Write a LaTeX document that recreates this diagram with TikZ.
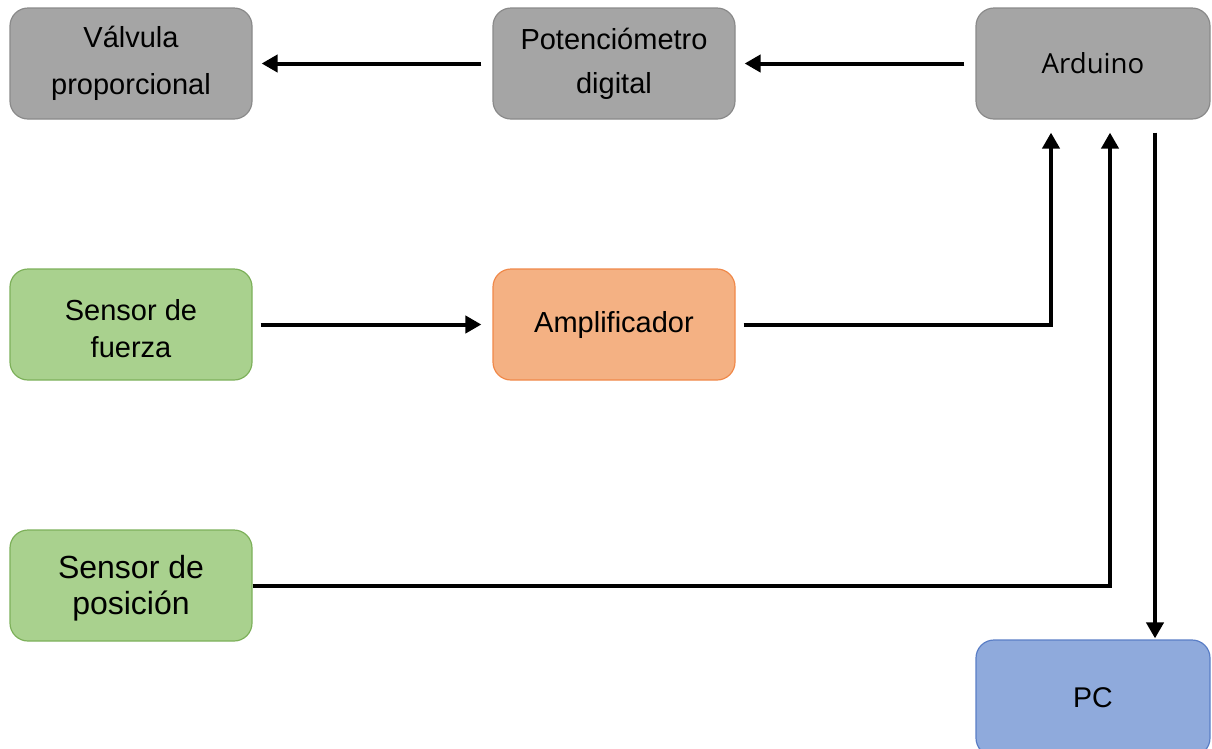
\documentclass[tikz,border=0pt]{standalone}
\usepackage{fontspec}
\setmainfont{Liberation Sans}
\newfontfamily\ardfont{Open Sans}
\usetikzlibrary{arrows.meta}

\definecolor{grayfill}{HTML}{A5A5A5}
\definecolor{grayline}{HTML}{8A8A8A}
\definecolor{greenfill}{HTML}{A9D18E}
\definecolor{greenline}{HTML}{7DB05A}
\definecolor{orangefill}{HTML}{F4B183}
\definecolor{orangeline}{HTML}{F0894A}
\definecolor{bluefill}{HTML}{8FAADC}
\definecolor{blueline}{HTML}{5A7EC6}

\begin{document}
\begin{tikzpicture}[x=1pt,y=-1pt,
  block/.style={draw, line width=1.2pt, rounded corners=18pt,
    minimum width=242pt, minimum height=111pt, align=center,
    inner sep=0pt, text=black},
  grayblk/.style={block, fill=grayfill, draw=grayline},
  greenblk/.style={block, fill=greenfill, draw=greenline},
  orangeblk/.style={block, fill=orangefill, draw=orangeline},
  blueblk/.style={block, fill=bluefill, draw=blueline},
  link/.style={line width=4pt, -{Triangle[length=16pt,width=17pt]}}
]
\useasboundingbox (0,0) rectangle (1212,748);

% top row
\node[grayblk, font=\fontsize{29}{47}\selectfont] (valv) at (131,63.5) {Válvula\\proporcional};
\node[grayblk, font=\fontsize{29}{44}\selectfont] (pot) at (614,63.5) {Potenciómetro\\digital};
\node[grayblk, minimum width=234pt, font=\ardfont\fontsize{27.6}{33}\selectfont] (ard) at (1093,63.5) {Arduino};

% middle row
\node[greenblk, font=\fontsize{29}{37}\selectfont] (fuer) at (131,324.5) {\rule{0pt}{29pt}Sensor de\\fuerza};
\node[orangeblk, font=\fontsize{29}{35}\selectfont] (amp) at (614,324.5) {Amplificador};

% bottom rows
\node[greenblk, font=\fontsize{32}{36}\selectfont] (pos) at (131,585.5) {\rule{0pt}{28pt}Sensor de\\posición};
\node[blueblk, minimum width=234pt, minimum height=116pt, font=\fontsize{28.5}{34}\selectfont] (pc) at (1093,698) {PC};

% connectors
\draw[link, shorten <=11pt, shorten >=9pt] (ard.west) -- (pot.east);
\draw[link, shorten <=11pt, shorten >=9pt] (pot.west) -- (valv.east);
\draw[link, shorten <=8pt, shorten >=11pt] (fuer.east) -- (amp.west);
\draw[link, shorten <=8pt, shorten >=13pt] (amp.east) -| ([xshift=-42pt]ard.south);
\draw[link, shorten >=13pt] (pos.east) -| ([xshift=17pt]ard.south);
\draw[link, shorten <=13pt, shorten >=1pt] ([xshift=62pt]ard.south) -- ([xshift=62pt]pc.north);
\end{tikzpicture}
\end{document}
